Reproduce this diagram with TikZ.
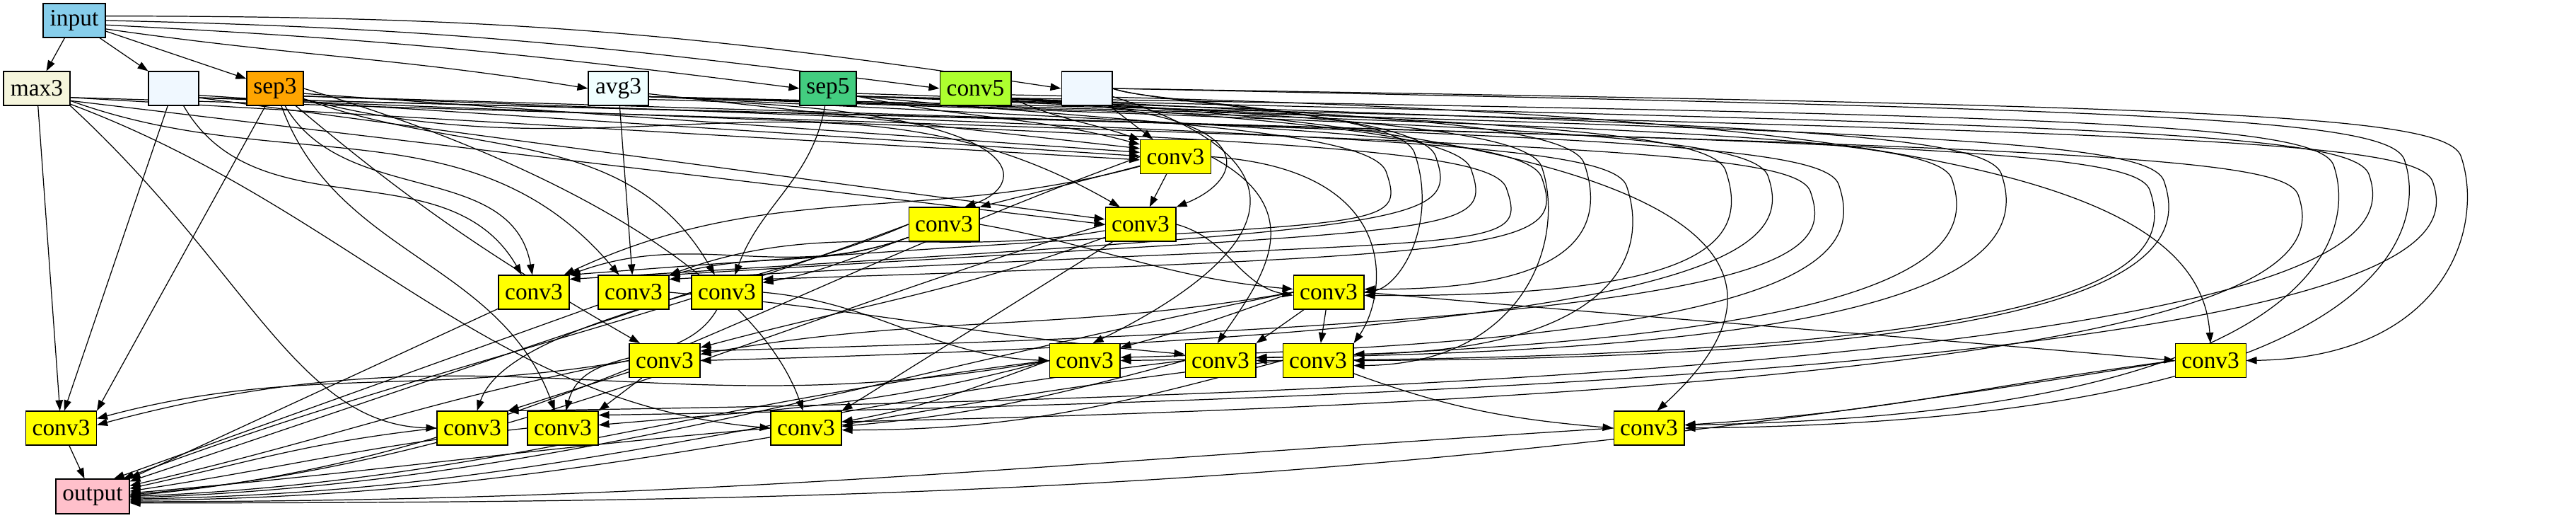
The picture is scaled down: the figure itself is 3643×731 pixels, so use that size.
\documentclass[tikz,border=0pt]{standalone}
\usepackage{fontspec}
\setmainfont{Liberation Serif}
\usetikzlibrary{arrows.meta,backgrounds}
\definecolor{cskyblue}{RGB}{135,206,235}
\definecolor{cbeige}{RGB}{245,245,220}
\definecolor{calice}{RGB}{240,248,255}
\definecolor{corange}{RGB}{255,165,0}
\definecolor{cazure}{RGB}{240,255,255}
\definecolor{cseagreen}{RGB}{67,205,128}
\definecolor{cgreenyellow}{RGB}{173,255,47}
\definecolor{cyellow}{RGB}{255,255,0}
\definecolor{cpink}{RGB}{255,192,203}
% loop edge: source anchor, target anchor, turn x, bundle y, return y
\newcommand\lp[5]{\draw[e] (#1) .. controls (#3-380,#4) and (#3-25,#4-10) .. (#3,#4-70) .. controls (#3+35,#4-170) and (#3-20,#5) .. (#2);}
\begin{document}
\begin{tikzpicture}[x=0.02cm,y=0.02cm,
  box/.style={draw=black, line width=0.6pt, rectangle, minimum height=0.96cm, minimum width=2cm, inner sep=0pt, font=\fontsize{19}{22}\selectfont},
  cv/.style={box, fill=cyellow},
  e/.style={-{Triangle[length=0.3cm,width=0.21cm]}, line width=0.7pt}]
\useasboundingbox (0,0) rectangle (3643,-731);
% nodes
\node[box, fill=cskyblue, minimum width=1.76cm] (in) at (105,-29) {input};
\node[box, fill=cbeige, minimum width=1.88cm] (max) at (52,-125) {max3};
\node[box, fill=calice, minimum width=1.42cm] (e1) at (245.5,-125) {};
\node[box, fill=corange, minimum width=1.6cm] (s3) at (389,-125) {sep3};
\node[box, fill=cazure, minimum width=1.7cm] (avg) at (874.5,-125) {avg3};
\node[box, fill=cseagreen, minimum width=1.6cm] (s5) at (1171,-125) {sep5};
\node[box, fill=cgreenyellow, minimum width=2.02cm] (c5) at (1379.5,-125) {conv5};
\node[box, fill=calice, minimum width=1.44cm] (e2) at (1537,-125) {};
\node[cv] (A) at (1662.5,-221.5) {conv3};
\node[cv] (C) at (1335,-317) {conv3};
\node[cv] (B) at (1613,-317) {conv3};
\node[cv] (D1) at (755,-413) {conv3};
\node[cv] (D2) at (896,-413) {conv3};
\node[cv] (D3) at (1028,-413) {conv3};
\node[cv] (D4) at (1879,-413) {conv3};
\node[cv] (E1) at (940,-509.5) {conv3};
\node[cv] (E2) at (1534,-509.5) {conv3};
\node[cv] (E3) at (1726,-509.5) {conv3};
\node[cv] (E4) at (1864,-509.5) {conv3};
\node[cv] (E5) at (3126,-509.5) {conv3};
\node[cv] (F1) at (86.5,-605) {conv3};
\node[cv] (F2) at (668,-605) {conv3};
\node[cv] (F3) at (796,-605) {conv3};
\node[cv] (F4) at (1140,-605) {conv3};
\node[cv] (F5) at (2332,-605) {conv3};
\node[box, fill=cpink, minimum width=2.08cm, minimum height=0.98cm] (out) at (131,-701.5) {output};
\begin{pgfonlayer}{background}
% input
\draw[e] (in) -- (max);
\draw[e] (in) -- (e1);
\draw[e] (in) -- (s3);
\draw[e] (in.-15) .. controls +(280,-40) and +(-280,45) .. (avg.west);
\draw[e] (in.-8) .. controls +(390,-20) and +(-390,50) .. (s5.west);
\draw[e] (in.0) .. controls +(470,-10) and +(-470,60) .. (c5.west);
\draw[e] (in.8) .. controls +(550,0) and +(-530,80) .. (e2.west);
% A
\draw[e] (max.-15) -- (A.185);
\draw[e] (e1.-15) -- (A.179);
\draw[e] (s3.-10) -- (A.173);
\draw[e] (avg.-10) -- (A.167);
\draw[e] (s5.-15) to[out=-12,in=165] (A.161);
\draw[e] (c5.-15) to[out=-25,in=160] (A.155);
\draw[e] (e2) -- (A);
% B
\draw[e] (A) -- (B);
\draw[e] (max.-20) -- (B.180);
\draw[e] (e1.-20) -- (B.172);
\draw[e] (s3.-20) to[out=-15,in=150] (B.140);
\draw[e] (c5.-20) .. controls (1790,-150) and (1770,-250) .. (B.north east);
% C
\draw[e] (A) -- (C.north east);
\draw[e] (avg.-20) .. controls (1470,-150) and (1460,-260) .. (C.40);
% D1
\draw[e] (e1) to[out=-60,in=120] (D1.125);
\draw[e] (s3) to[out=-60,in=100] (D1.95);
\draw[e] (C) to[out=200,in=20] (D1.north east);
\draw[e] (A) to[out=195,in=25] (D1.30);
% D2
\draw[e] (max.-20) to[out=-20,in=130] (D2.130);
\draw[e] (avg) -- (D2);
\draw[e] (B) to[out=190,in=20] (D2.north east);
\draw[e] (C) to[out=200,in=15] (D2.25);
% D3
\draw[e] (s3.-20) to[out=-20,in=120] (D3.125);
\draw[e] (s5) to[out=-100,in=70] (D3.65);
\draw[e] (C) to[out=200,in=10] (D3.15);
% D4
\draw[e] (C.east) to[out=-10,in=175] (D4.175);
\draw[e] (B.east) to[out=-15,in=170] (D4.185);
% E1
\draw[e] (s3) to[out=-40,in=150] (E1.145);
\draw[e] (D4.west) to[out=190,in=10] (E1.10);
\draw[e] (B) to[out=200,in=15] (E1.20);
% E2
\draw[e] (D3.east) to[out=-5,in=178] (E2.west);
\draw[e] (e2) .. controls (1900,-240) and (1760,-380) .. (E2.65);
\draw[e] (D4.west) to[out=200,in=15] (E2.20);
% E3
\draw[e] (D2.east) to[out=-5,in=175] (E3.170);
\draw[e] (A.east) .. controls (1860,-300) and (1780,-400) .. (E3.100);
\draw[e] (D4) -- (E3.north east);
% E4
\draw[e] (D4) -- (E4);
\draw[e] (A.east) .. controls (1990,-240) and (1960,-420) .. (E4.north east);
% E5
\draw[e] (D4.east) .. controls +(450,-40) and +(-450,40) .. (E5.west);
\draw[e] (c5.-10) .. controls (2700,-160) and (3110,-250) .. (E5.north);
% F1
\draw[e] (max) -- (F1);
\draw[e] (e1) -- (F1.80);
\draw[e] (s3) -- (F1.north east);
\draw[e] (E1.west) to[out=190,in=15] (F1.15);
\draw[e] (E2.west) .. controls +(-560,-100) and +(560,150) .. (F1.5);
% F2
\draw[e] (max.south east) .. controls (350,-380) and (420,-600) .. (F2.west);
\draw[e] (C.west) .. controls (1100,-400) and (720,-450) .. (F2.75);
\draw[e] (E1) -- (F2.north east);
% F3
\draw[e] (s3) to[out=-70,in=110] (F3.115);
\draw[e] (D3) to[out=-120,in=75] (F3.80);
\draw[e] (E1) -- (F3.north east);
\draw[e] (E2.west) to[out=195,in=5] (F3.5);
% F4
\draw[e] (max.-25) .. controls +(400,-150) and +(-400,35) .. (F4.west);
\draw[e] (s3.east) .. controls (850,-250) and (1080,-420) .. (F4.100);
\draw[e] (B) -- (F4.north east);
\draw[e] (E2.west) to[out=200,in=10] (F4.10);
\draw[e] (E3.west) to[out=195,in=5] (F4.3);
\draw[e] (E4.west) to[out=195,in=0] (F4.-3);
% F5
\draw[e] (E4) to[out=-20,in=175] (F5.west);
\draw[e] (s5.-10) .. controls (2600,-170) and (2520,-420) .. (F5.65);
\draw[e] (E5.west) .. controls +(-300,-40) and +(300,20) .. (F5.5);
% loops round the right
\lp{s5.-15}{D1.north east}{1960}{-172}{-300}
\lp{e2.east}{D1.20}{2030}{-150}{-320}
\lp{c5.-15}{D2.north east}{2080}{-168}{-320}
\lp{e1.-20}{D2.20}{2130}{-195}{-330}
\lp{avg.-15}{D3.20}{2180}{-180}{-360}
\lp{e2.east}{D4.east}{2000}{-145}{-405}
\lp{c5.-15}{D4.5}{2240}{-160}{-410}
\lp{s5.-15}{D4.-5}{2440}{-170}{-420}
\lp{avg.-15}{E1.east}{2500}{-178}{-470}
\lp{max.-15}{E1.15}{2560}{-200}{-455}
\lp{s3.-15}{E2.5}{2600}{-190}{-480}
\lp{avg.-15}{E2.east}{2760}{-182}{-495}
\lp{s5.-15}{E3.5}{2830}{-175}{-495}
\lp{e1.-20}{E3.east}{3040}{-198}{-505}
\lp{s3.-15}{E4.10}{2300}{-192}{-495}
\lp{avg.-15}{E4.east}{3060}{-185}{-505}
\lp{c5.-15}{E4.-8}{2180}{-165}{-515}
\lp{e2.east}{E5.east}{3480}{-150}{-505}
\lp{s5.-15}{F2.north east}{3350}{-176}{-545}
\lp{avg.-15}{F3.20}{3440}{-186}{-545}
\lp{e1.-20}{F4.10}{3250}{-205}{-550}
\lp{e2.east}{F5.east}{3400}{-155}{-595}
\lp{c5.-15}{F5.5}{3300}{-163}{-585}
% output
\draw[e] (F1) -- (out);
\draw[e] (D1) -- (out.north east);
\draw[e] (D2) -- (out.40);
\draw[e] (C.west) .. controls +(-400,-150) and +(400,150) .. (out.30);
\draw[e] (D3.west) .. controls +(-300,-100) and +(300,100) .. (out.22);
\draw[e] (E1.west) .. controls +(-300,-60) and +(300,70) .. (out.16);
\draw[e] (F2.west) .. controls +(-180,-20) and +(180,40) .. (out.12);
\draw[e] (F3.west) .. controls +(-230,-25) and +(230,35) .. (out.8);
\draw[e] (F4.west) .. controls +(-350,-30) and +(350,30) .. (out.5);
\draw[e] (B.west) .. controls +(-500,-150) and +(500,40) .. (out.3);
\draw[e] (A.west) .. controls +(-550,-200) and +(550,50) .. (out.1);
\draw[e] (E2.west) .. controls +(-500,-60) and +(500,20) .. (out.0);
\draw[e] (D4.west) .. controls +(-600,-120) and +(600,20) .. (out.-2);
\draw[e] (E3.west) .. controls +(-600,-70) and +(600,10) .. (out.-4);
\draw[e] (E4.west) .. controls +(-640,-70) and +(640,5) .. (out.-6);
\draw[e] (F5.west) .. controls +(-800,-50) and +(800,0) .. (out.-8);
\draw[e] (E5.west) .. controls +(-1100,-180) and +(1100,0) .. (out.-10);
\end{pgfonlayer}
\end{tikzpicture}
\end{document}
